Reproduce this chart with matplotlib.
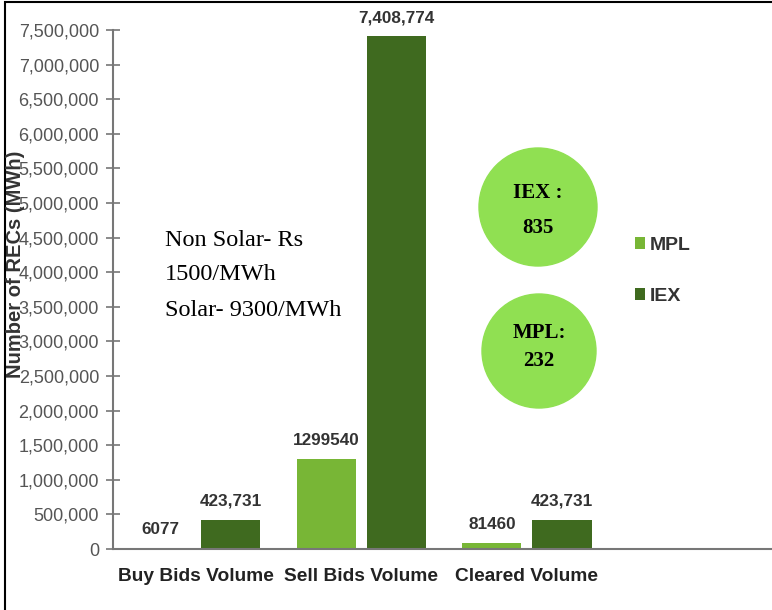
from matplotlib import pyplot as plt
from matplotlib.patches import Ellipse, Rectangle
from matplotlib.ticker import FuncFormatter
import numpy as np

categories = ['Buy Bids Volume', 'Sell Bids Volume', 'Cleared Volume']
mpl_values = [6077, 1299540, 81460]
iex_values = [423731, 7408774, 423731]
mpl_labels = ['6077', '1299540', '81460']
iex_labels = ['423,731', '7,408,774', '423,731']

MPL_COLOR = '#78b636'
IEX_COLOR = '#3f6a1f'

fig = plt.figure(figsize=(7.72, 6.10), dpi=100)
ax = fig.add_axes([113/772, 1 - 549/610, 1 - 113/772, (549 - 30)/610])

x = np.arange(len(categories))
w = 0.357
off = 0.212
b1 = ax.bar(x - off, mpl_values, w, color=MPL_COLOR, label='MPL')
b2 = ax.bar(x + off, iex_values, w, color=IEX_COLOR, label='IEX')

for bars, labels in [(b1, mpl_labels), (b2, iex_labels)]:
    for bar, lab in zip(bars, labels):
        ax.annotate(lab, (bar.get_x() + bar.get_width() / 2, bar.get_height()),
                    xytext=(0, 8), textcoords='offset points',
                    ha='center', va='bottom', fontsize=12.3, fontweight='bold',
                    color='#333333', family='Liberation Sans')

ax.set_xlim(-0.5, 3.48)
ax.set_ylim(0, 7500000)
ax.set_yticks(np.arange(0, 7500001, 500000))
ax.yaxis.set_major_formatter(FuncFormatter(lambda v, p: f'{int(v):,}'))
ax.set_xticks(x)
ax.set_xticklabels(categories, fontsize=13.8, fontweight='bold', color='#222222',
                   family='Liberation Sans')
ax.tick_params(axis='x', length=0, pad=14)
ax.tick_params(axis='y', direction='inout', length=10, width=1.2, color='#777777',
               labelsize=13, labelcolor='#555555', pad=5)
for lab in ax.get_yticklabels():
    lab.set_family('Liberation Sans')

for s in ['top', 'right']:
    ax.spines[s].set_visible(False)
ax.spines['left'].set_color('#777777')
ax.spines['left'].set_linewidth(1.5)
ax.spines['bottom'].set_color('#777777')
ax.spines['bottom'].set_linewidth(1.5)

fig.text(16/772, 1 - 264/610, 'Number of RECs (MWh)', rotation=90, ha='center', va='center',
         fontsize=14.5, fontweight='bold', color='#333333', family='Liberation Sans')

# annotation text
for i, line in enumerate(['Non Solar- Rs', '1500/MWh', 'Solar- 9300/MWh']):
    fig.text(165/772, 1 - (240 + 35 * i)/610, line, ha='left', va='center',
             fontsize=17.5, family='Liberation Serif', color='black')

# circles
for cx, cy, r, l1, l2, y1, y2 in [(538, 207, 59, 'IEX :', '835', 193, 228),
                                  (539, 351, 57, 'MPL:', '232', 333, 361)]:
    fig.patches.append(Ellipse((cx/772, 1 - cy/610), 2*r/772, 2*r/610,
                               transform=fig.transFigure, color='#90e052', zorder=5))
    fig.text(cx/772, 1 - y1/610, l1, ha='center', va='center', fontsize=15,
             fontweight='bold', family='Liberation Serif', zorder=6)
    fig.text(cx/772, 1 - y2/610, l2, ha='center', va='center', fontsize=15,
             fontweight='bold', family='Liberation Serif', zorder=6)

leg = fig.legend(handles=[b1, b2], labels=['MPL', 'IEX'], loc='center left',
                 bbox_to_anchor=(617/772, 1 - 271/610), frameon=False,
                 handlelength=0.55, handleheight=0.55, handletextpad=0.25,
                 labelspacing=1.75, prop={'family': 'Liberation Sans', 'size': 14,
                                          'weight': 'bold'})
for t in leg.get_texts():
    t.set_color('#333333')

# frame border
fig.patches.append(Rectangle((5/772, -0.1), 1.2, 1.1 - 2/610, transform=fig.transFigure,
                             fill=False, edgecolor='black', linewidth=1.5))

plt.savefig('out.png', dpi=100)
